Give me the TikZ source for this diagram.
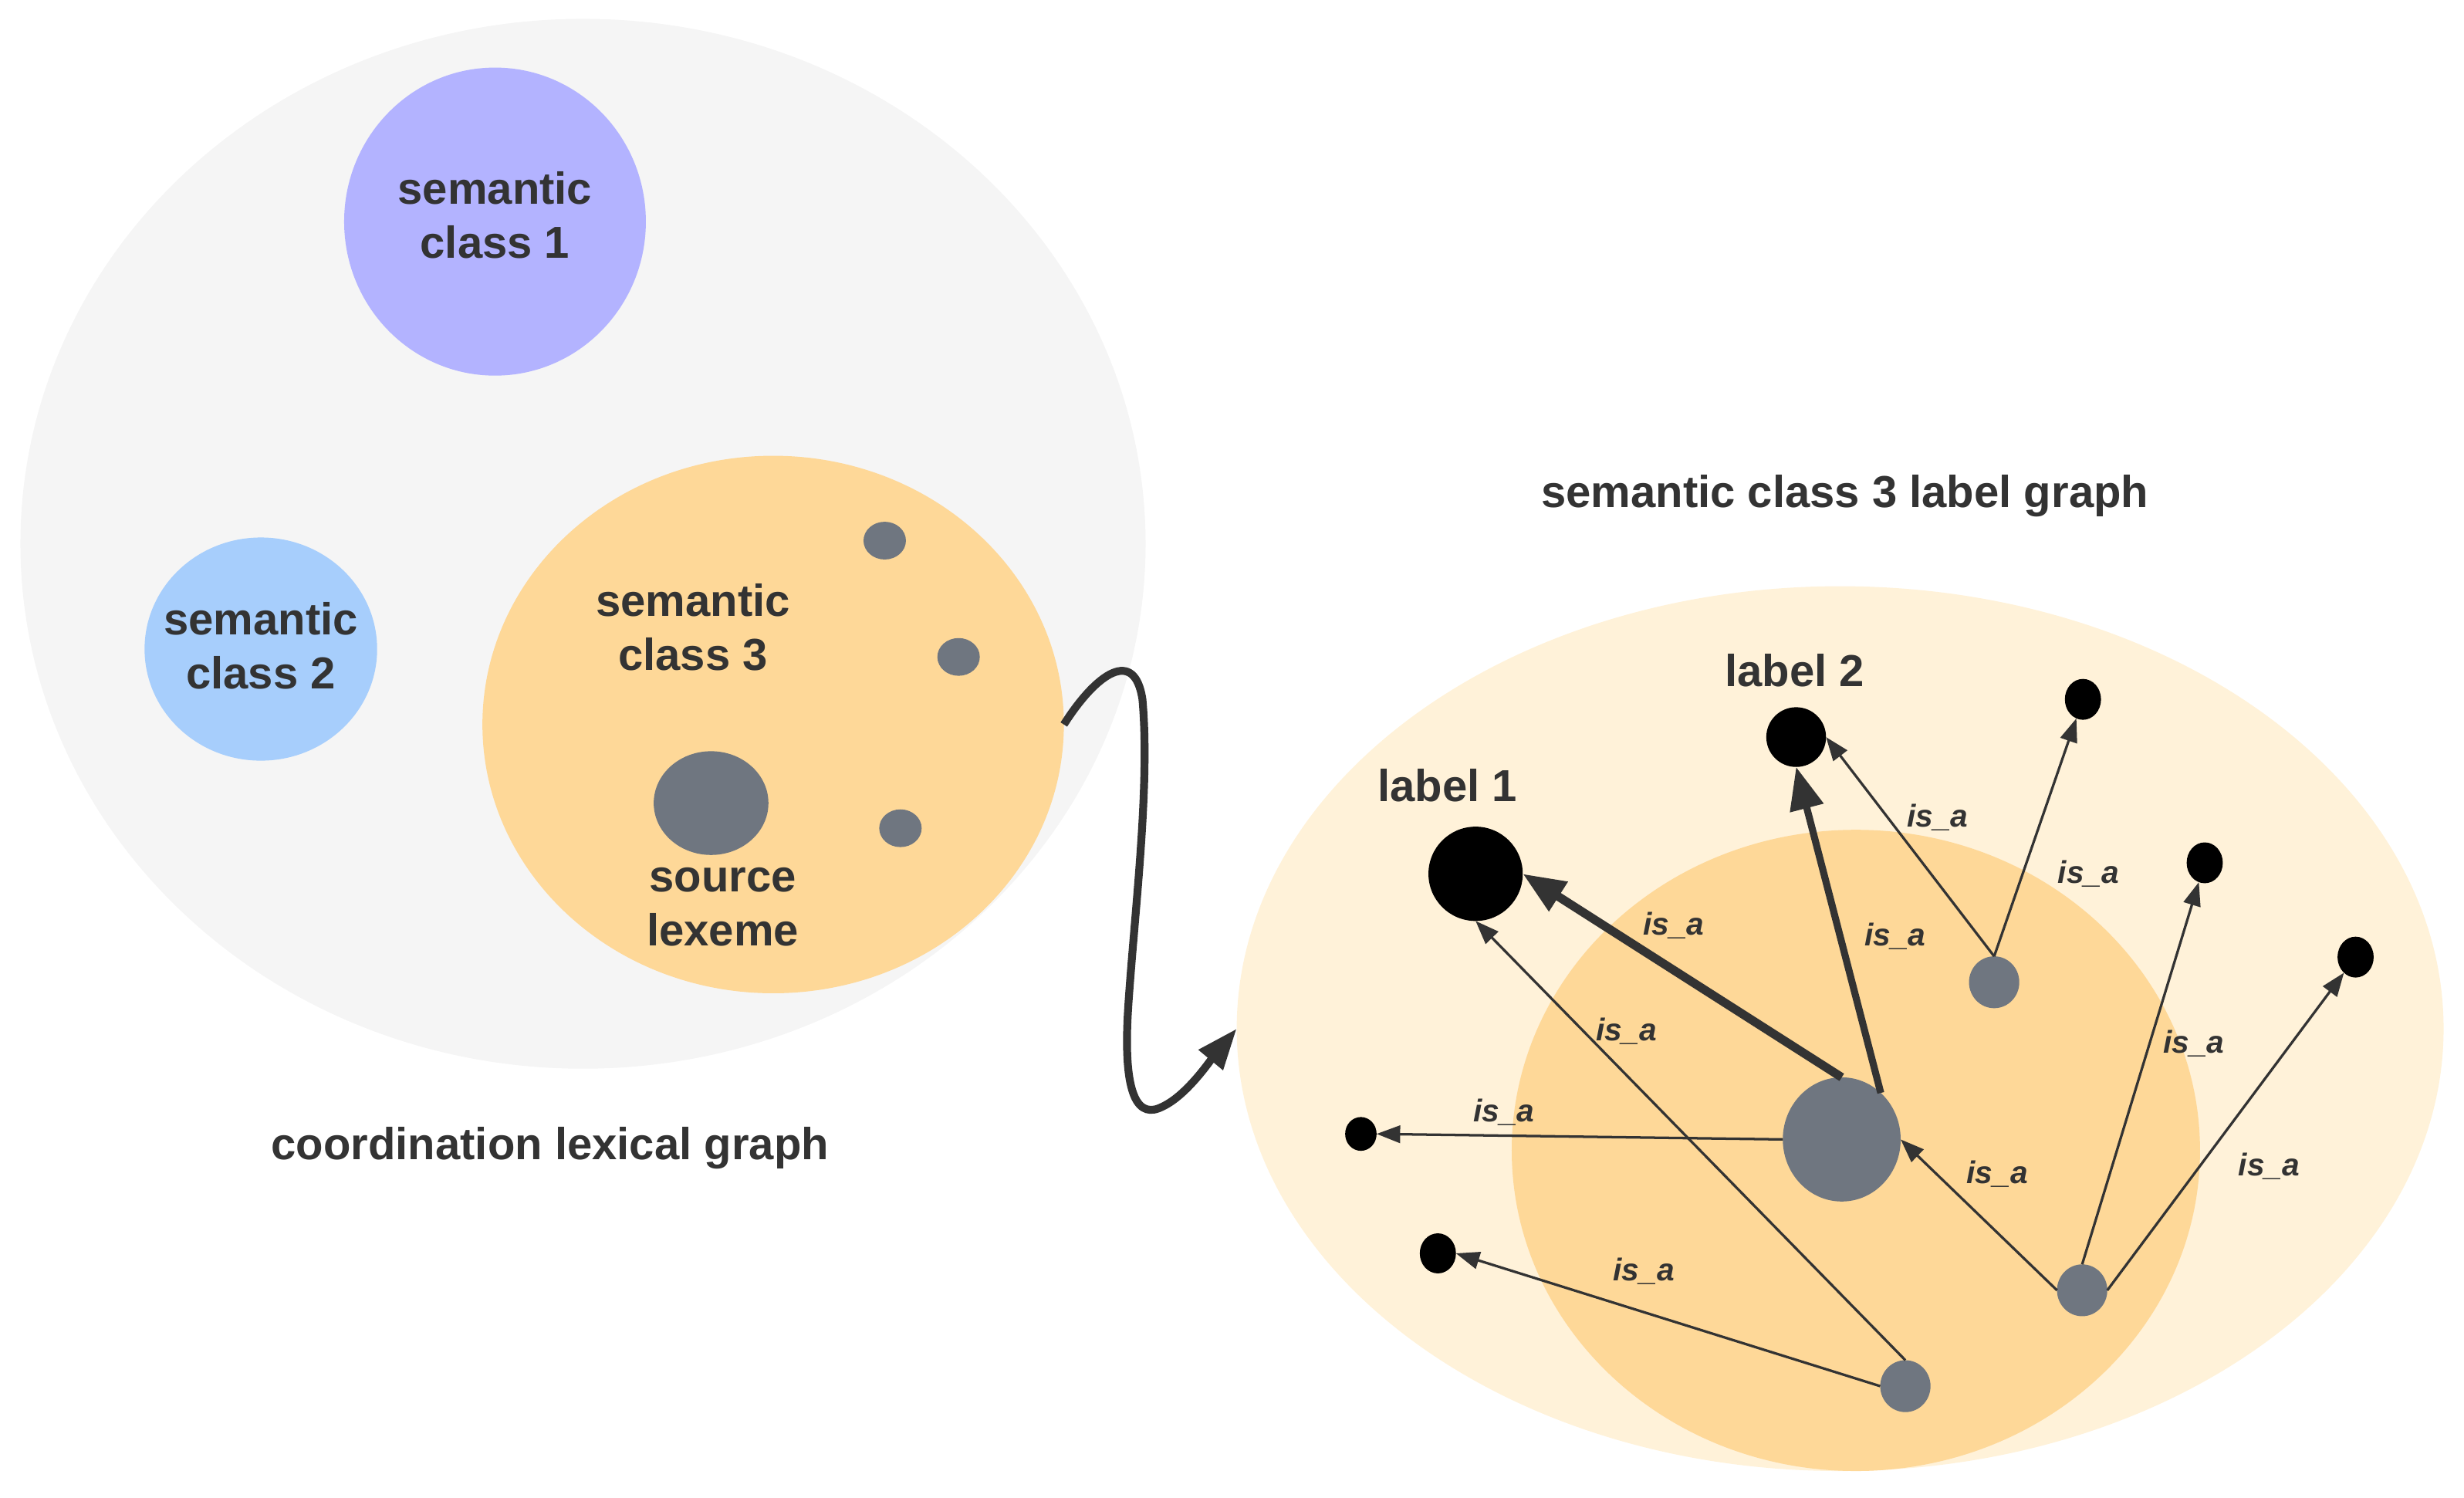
\documentclass[tikz,border=0pt]{standalone}
\usepackage{fontspec}
\setmainfont{Liberation Sans}
\usetikzlibrary{shapes.geometric,arrows.meta}
\definecolor{bgray}{HTML}{F5F5F5}
\definecolor{cone}{HTML}{B3B3FF}
\definecolor{ctwo}{HTML}{A7CEFC}
\definecolor{cthree}{HTML}{FED898}
\definecolor{clight}{HTML}{FFF2D9}
\definecolor{nodegray}{HTML}{6F7680}
\definecolor{txt}{HTML}{333333}
\begin{document}
\begin{tikzpicture}[x=1pt,y=-1pt,
  blob/.style={ellipse, inner sep=0pt, outer sep=0pt, draw=none},
  grayblob/.style={blob, fill=nodegray},
  blackblob/.style={blob, fill=black},
  bigtext/.style={font=\bfseries\fontsize{28.5}{34.5}\selectfont, text=txt, align=center, inner sep=0pt},
  isa/.style={font=\bfseries\itshape\fontsize{20}{24}\selectfont, text=txt, inner sep=0pt, anchor=base},
  thinarrow/.style={draw=txt, line width=1.6pt, -{Triangle[length=15pt,width=11pt]}},
  thickarrow/.style={draw=txt, -{Triangle[length=27pt,width=21pt]}},
  curvearrow/.style={draw=txt, line width=5pt, -{Triangle[length=26pt,width=19pt]}}
]
\useasboundingbox (0,0) rectangle (1568,953);

% left: coordination lexical graph
\node[blob, fill=bgray, minimum width=716pt, minimum height=668pt] (bg) at (371,346) {};
\node[blob, fill=cone, minimum width=192pt, minimum height=196pt] (c1) at (315,141) {};
\node[blob, fill=ctwo, minimum width=148pt, minimum height=142pt] (c2) at (166,413) {};
\node[blob, fill=cthree, minimum width=370pt, minimum height=342pt] (c3) at (492,461) {};
\node[grayblob, minimum width=27pt, minimum height=24pt] (d1) at (563,344) {};
\node[grayblob, minimum width=27pt, minimum height=24pt] (d2) at (610,418) {};
\node[grayblob, minimum width=27pt, minimum height=24pt] (d3) at (573,527) {};
\node[grayblob, minimum width=73pt, minimum height=66pt] (src) at (452.5,511) {};

\node[bigtext] (t1) at (315,137) {semantic\\class 1};
\node[bigtext] (t2) at (166,411) {semantic\\class 2};
\node[bigtext] (t3) at (441,399) {semantic\\class 3};
\node[bigtext] (tsrc) at (460,577) {source\\lexeme};
\node[bigtext, anchor=base] (tleft) at (350,738) {coordination lexical graph};

% right: label graph
\node[bigtext, anchor=base] (tright) at (1174,323) {semantic class 3 label graph};
\node[blob, fill=clight, minimum width=768pt, minimum height=563pt] (outer) at (1171,654.5) {};
\node[blob, fill=cthree, minimum width=438pt, minimum height=408pt] (inner) at (1181,732) {};

\node[blackblob, minimum width=60pt, minimum height=60pt] (l1) at (939,556) {};
\node[blackblob, minimum width=38pt, minimum height=38pt] (l2) at (1143,469) {};
\node[blackblob, minimum width=23pt, minimum height=26pt] (tr) at (1325.5,445) {};
\node[blackblob, minimum width=23pt, minimum height=26pt] (rb1) at (1403,549) {};
\node[blackblob, minimum width=23pt, minimum height=26pt] (rb2) at (1499,609) {};
\node[blackblob, minimum width=20pt, minimum height=21.5pt] (sb1) at (866,721.5) {};
\node[blackblob, minimum width=23pt, minimum height=25.5pt] (sb2) at (915,797.5) {};

\node[grayblob, minimum width=32pt, minimum height=33pt] (mid) at (1269,625) {};
\node[grayblob, minimum width=75pt, minimum height=79pt] (big) at (1172,725) {};
\node[grayblob, minimum width=32pt, minimum height=33pt] (g2) at (1212.5,882) {};
\node[grayblob, minimum width=32pt, minimum height=33pt] (g3) at (1325,821) {};

\node[bigtext, anchor=base] (tl1) at (921,510) {label 1};
\node[bigtext, anchor=base] (tl2) at (1142,437) {label 2};

% edges
\draw[thickarrow, line width=5.5pt] (big.north) -- (l1.east);
\draw[thickarrow, line width=4.5pt] (big.50) -- (l2.south);
\draw[thinarrow] (mid.north) -- (l2.east);
\draw[thinarrow] (mid.north) -- (tr);
\draw[thinarrow] (big.west) -- (sb1.east);
\draw[thinarrow] (g2.north) -- (l1.south);
\draw[thinarrow] (g2.west) -- (sb2.east);
\draw[thinarrow] (g3.west) -- (big.east);
\draw[thinarrow] (g3.north) -- (rb1);
\draw[thinarrow] (g3.east) -- (rb2);

\node[isa] (i1) at (1065,595) {is\_a};
\node[isa] (i2) at (1206,602) {is\_a};
\node[isa] (i3) at (1233,526) {is\_a};
\node[isa] (i4) at (1329,562) {is\_a};
\node[isa] (i5) at (957,714) {is\_a};
\node[isa] (i6) at (1035,662) {is\_a};
\node[isa] (i7) at (1046,815) {is\_a};
\node[isa] (i8) at (1271,753) {is\_a};
\node[isa] (i9) at (1396,670) {is\_a};
\node[isa] (i10) at (1444,748) {is\_a};

% connector between the two graphs
\draw[curvearrow] (c3.east) .. controls (698,428) and (722,412) .. (727,445)
  .. controls (732,500) and (722,580) .. (718,640)
  .. controls (714,700) and (725,712) .. (740,704)
  .. controls (755,697) and (770,675) .. (outer.west);
\end{tikzpicture}
\end{document}
